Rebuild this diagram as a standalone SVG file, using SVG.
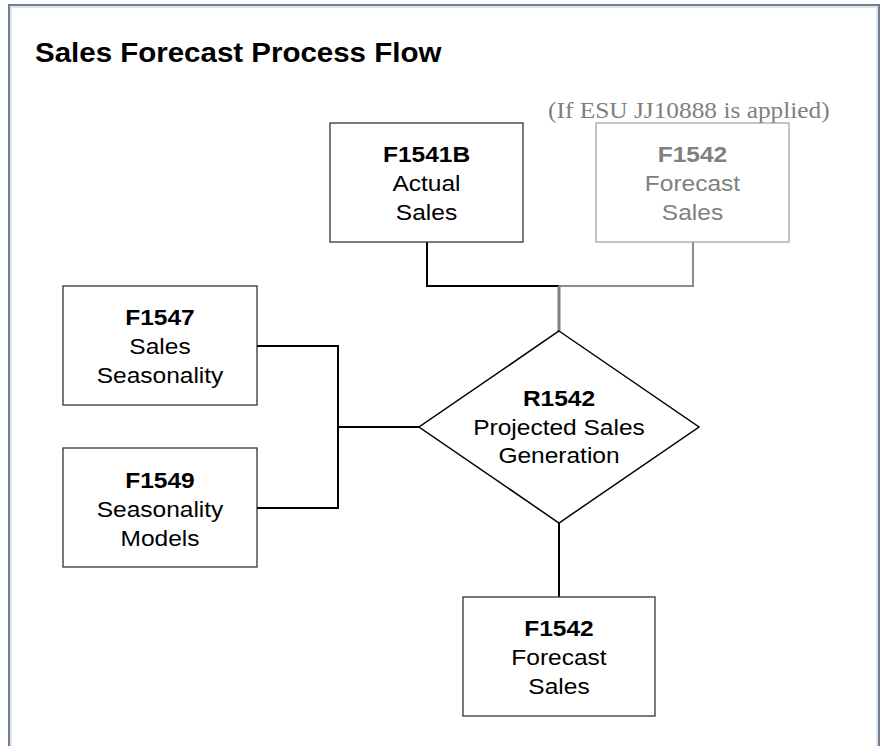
<svg xmlns="http://www.w3.org/2000/svg" width="886" height="746" viewBox="0 0 886 746">
<style>
.box{fill:#fff;stroke:#333;stroke-width:1.3}
.gbox{fill:#fff;stroke:#a6a6a6;stroke-width:1.3}
.t{font-family:"Liberation Sans",Arial,sans-serif;font-size:22.7px;fill:#000;text-anchor:middle}
.b{font-weight:bold}
.g{fill:#808080}
.c{fill:none;stroke:#000;stroke-width:2}
.gc{fill:none;stroke:#8c8c8c;stroke-width:2}
</style>
<rect x="0" y="0" width="886" height="746" fill="#fff"/>
<path d="M9,760 V5 H879 V760" fill="none" stroke="#6f7f94" stroke-width="2"/>
<path d="M11,760 V7 H877 V760" fill="none" stroke="#c5cdd8" stroke-width="1"/>
<g id="title">
<text class="t b" style="text-anchor:start;font-size:27.3px" transform="translate(35,62) scale(1.08,1)">Sales Forecast Process Flow</text>
</g>
<g id="note">
<text style="font-family:'Liberation Serif','Times New Roman',serif;font-size:23.5px;fill:#808080" transform="translate(548,118) scale(1.08,1)">(If ESU JJ10888 is applied)</text>
</g>
<g id="connectors">
<path class="c" d="M427,242 V286 H559"/>
<path class="gc" d="M559,286 H693 V242"/>
<path d="M559,286 V331" fill="none" stroke="#808080" stroke-width="3"/>
<path class="c" d="M257,346 H338 V508 H257"/>
<path class="c" d="M338,427 H419"/>
<path class="c" d="M559,523 V597"/>
</g>
<g id="F1541B">
<rect class="box" x="330" y="123" width="193" height="119"/>
<text class="t b" transform="translate(426.5,162) scale(1.08,1)">F1541B</text>
<text class="t" transform="translate(426.5,191) scale(1.08,1)">Actual</text>
<text class="t" transform="translate(426.5,220) scale(1.08,1)">Sales</text>
</g>
<g id="F1542_opt">
<rect class="gbox" x="596" y="123" width="193" height="119"/>
<text class="t b g" transform="translate(692.5,162) scale(1.08,1)">F1542</text>
<text class="t g" transform="translate(692.5,191) scale(1.08,1)">Forecast</text>
<text class="t g" transform="translate(692.5,220) scale(1.08,1)">Sales</text>
</g>
<g id="F1547">
<rect class="box" x="63" y="286" width="194" height="119"/>
<text class="t b" transform="translate(160,325) scale(1.08,1)">F1547</text>
<text class="t" transform="translate(160,354) scale(1.08,1)">Sales</text>
<text class="t" transform="translate(160,383) scale(1.08,1)">Seasonality</text>
</g>
<g id="F1549">
<rect class="box" x="63" y="448" width="194" height="119"/>
<text class="t b" transform="translate(160,488) scale(1.08,1)">F1549</text>
<text class="t" transform="translate(160,517) scale(1.08,1)">Seasonality</text>
<text class="t" transform="translate(160,546) scale(1.08,1)">Models</text>
</g>
<g id="R1542">
<polygon points="559,331 699,427 559,523 419,427" fill="#fff" stroke="#000" stroke-width="1.5"/>
<text class="t b" transform="translate(559,406) scale(1.08,1)">R1542</text>
<text class="t" transform="translate(559,435) scale(1.08,1)">Projected Sales</text>
<text class="t" transform="translate(559,463) scale(1.08,1)">Generation</text>
</g>
<g id="F1542">
<rect class="box" x="463" y="597" width="192" height="119"/>
<text class="t b" transform="translate(559,636) scale(1.08,1)">F1542</text>
<text class="t" transform="translate(559,665) scale(1.08,1)">Forecast</text>
<text class="t" transform="translate(559,694) scale(1.08,1)">Sales</text>
</g>
</svg>
